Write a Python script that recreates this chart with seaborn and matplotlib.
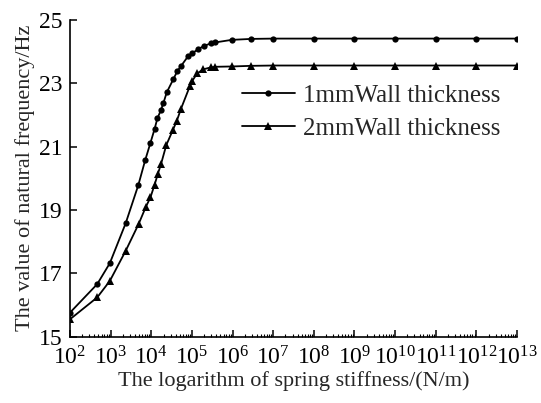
import numpy as np
import pandas as pd
import matplotlib
matplotlib.use("Agg")
import matplotlib.pyplot as plt
import seaborn as sns
from matplotlib.ticker import LogLocator, NullFormatter, FixedLocator

# ---- data ----
log_k1 = [2.0, 2.67, 2.98, 3.37, 3.68, 3.85, 3.98, 4.08, 4.15, 4.24, 4.30, 4.38,
          4.54, 4.64, 4.73, 4.91, 5.00, 5.16, 5.30, 5.47, 5.58, 5.98, 6.46,
          7, 8, 9, 10, 11, 12, 13]
freq_1mm = [15.76, 16.66, 17.32, 18.58, 19.78, 20.57, 21.12, 21.55, 21.89, 22.16, 22.38, 22.71,
            23.12, 23.38, 23.54, 23.86, 23.94, 24.08, 24.18, 24.26, 24.29, 24.37, 24.40,
            24.41, 24.41, 24.41, 24.41, 24.41, 24.41, 24.41]

log_k2 = [2.0, 2.67, 2.98, 3.37, 3.69, 3.86, 3.98, 4.08, 4.16, 4.24, 4.37, 4.53,
          4.63, 4.73, 4.95, 5.00, 5.13, 5.28, 5.46, 5.58, 5.98, 6.46,
          7, 8, 9, 10, 11, 12, 13]
freq_2mm = [15.55, 16.24, 16.76, 17.71, 18.56, 19.08, 19.40, 19.79, 20.13, 20.45, 21.05, 21.52,
            21.82, 22.19, 22.91, 23.06, 23.31, 23.44, 23.50, 23.52, 23.53, 23.55,
            23.56, 23.56, 23.56, 23.56, 23.56, 23.56, 23.56]

labels = ["1mmWall thickness", "2mmWall thickness"]
x_ticks_exp = list(range(2, 14))
y_ticks = [15, 17, 19, 21, 23, 25]

df1 = pd.DataFrame({"k": [10.0 ** v for v in log_k1], "f": freq_1mm})
df2 = pd.DataFrame({"k": [10.0 ** v for v in log_k2], "f": freq_2mm})

sns.set_style("ticks")
plt.rcParams["font.family"] = ["Liberation Serif", "DejaVu Serif"]
plt.rcParams["mathtext.fontset"] = "custom"
plt.rcParams["mathtext.rm"] = "Liberation Serif"
plt.rcParams["mathtext.it"] = "Liberation Serif:italic"

fig = plt.figure(figsize=(5.41, 4.03), dpi=100)
ax = fig.add_axes([70 / 541, 1 - 336.7 / 403, (517 - 70) / 541, (336.7 - 19.9) / 403])

sns.lineplot(data=df1, x="k", y="f", ax=ax, color="black", lw=1.3,
             marker="o", markersize=4.5, markeredgewidth=0, label=labels[0])
sns.lineplot(data=df2, x="k", y="f", ax=ax, color="black", lw=1.3,
             marker="^", markersize=5.5, markeredgewidth=0, label=labels[1])

ax.set_xscale("log")
ax.set_xlim(1e2, 1e13)
ax.set_ylim(15, 25)
ax.xaxis.set_major_locator(FixedLocator([10.0 ** e for e in x_ticks_exp]))
ax.set_xticklabels([r"$\mathdefault{10^{%d}}$" % e for e in x_ticks_exp])
ax.xaxis.set_minor_locator(LogLocator(base=10, subs=np.arange(2, 10), numticks=100))
ax.xaxis.set_minor_formatter(NullFormatter())
ax.set_yticks(y_ticks)
ax.set_yticklabels([str(v) for v in y_ticks])

for s in ["top", "right"]:
    ax.spines[s].set_visible(False)
for s in ["left", "bottom"]:
    ax.spines[s].set_linewidth(1.2)
    ax.spines[s].set_color("black")

ax.tick_params(axis="both", which="major", direction="in", length=5, width=1.1,
               labelsize=17, colors="black")
ax.tick_params(axis="y", which="major", pad=5.5)
ax.tick_params(axis="x", which="major", pad=7)
ax.tick_params(axis="x", which="minor", direction="in", length=2.5, width=0.8, colors="black")

ax.set_xlabel("The logarithm of spring stiffness/(N/m)", fontsize=16, labelpad=1)
ax.set_ylabel("The value of natural frequency/Hz", fontsize=16, labelpad=3)

ax.legend(loc="center left", bbox_to_anchor=(242 / 541, 1 - 112 / 403),
          bbox_transform=fig.transFigure, frameon=False, fontsize=18,
          handlelength=2.1, handletextpad=0.35, borderpad=0, borderaxespad=0,
          labelspacing=0.42)

fig.savefig("out.png", dpi=100)
